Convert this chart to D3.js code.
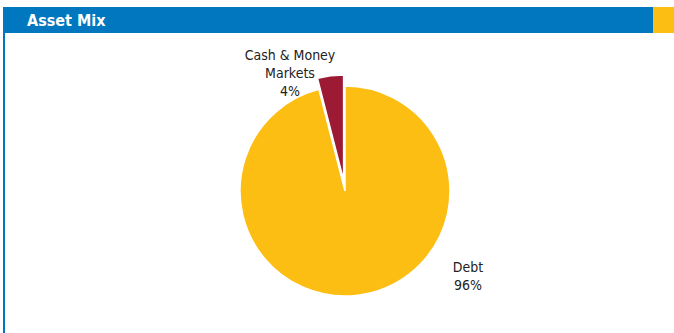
<!DOCTYPE html>
<html lang="en">
<head>
    <meta charset="utf-8">
    <title>Asset Mix</title>
    <script src="https://d3js.org/d3.v7.min.js"></script>
    <style>
        body { margin: 0; background: #fff; }
        .slice-label {
            font-family: "DejaVu Sans Condensed", "DejaVu Sans", sans-serif;
            font-stretch: condensed;
            font-size: 14px;
            fill: #222;
        }
    </style>
</head>
<body>
    <div id="chart"></div>
    <script>
        // Chart data
        const categories = ["Debt", "Cash & Money Markets"];
        const shares = [96, 4];
        const labelLines = [["Debt", "96%"], ["Cash & Money", "Markets", "4%"]];
        const sliceColors = ["#fdbe14", "#9c1a33"];

        const width = 674, height = 333;
        const svg = d3.select("#chart").append("svg")
            .attr("width", width)
            .attr("height", height);

        // Header bar
        svg.append("rect").attr("x", 3).attr("y", 7).attr("width", 650).attr("height", 26).attr("fill", "#0077be");
        svg.append("rect").attr("x", 653).attr("y", 7).attr("width", 21).attr("height", 26).attr("fill", "#fdbe14");
        svg.append("rect").attr("x", 3).attr("y", 33).attr("width", 2).attr("height", height - 33).attr("fill", "#0077be");
        svg.append("text")
            .attr("x", 27).attr("y", 26)
            .attr("fill", "#fff")
            .style("font-family", "'DejaVu Sans Condensed', 'DejaVu Sans', sans-serif")
            .style("font-stretch", "condensed")
            .style("font-weight", "bold")
            .style("font-size", "16px")
            .text("Asset Mix");

        // Pie
        const cx = 345, cy = 191, radius = 105, explode = 11;
        const data = categories.map((c, i) => ({ name: c, value: shares[i], color: sliceColors[i], lines: labelLines[i] }));
        const pie = d3.pie().sort(null).value(d => d.value);
        const arc = d3.arc().innerRadius(0).outerRadius(radius);
        const arcs = pie(data);

        const g = svg.append("g").attr("transform", `translate(${cx},${cy})`);

        g.selectAll("path")
            .data(arcs)
            .join("path")
            .attr("d", arc)
            .attr("fill", d => d.data.color)
            .attr("stroke", "#fff")
            .attr("stroke-width", 1.5)
            .attr("transform", d => {
                if (d.index === 0) return null;
                const mid = (d.startAngle + d.endAngle) / 2;
                return `translate(${Math.sin(mid) * explode},${-Math.cos(mid) * explode})`;
            });

        // Labels
        const labelPos = [[123, 81], [-55, -131]];
        const lineH = 18;
        arcs.forEach((d, i) => {
            const t = g.append("text")
                .attr("class", "slice-label")
                .attr("text-anchor", "middle")
                .attr("x", labelPos[i][0])
                .attr("y", labelPos[i][1]);
            d.data.lines.forEach((ln, j) => {
                t.append("tspan")
                    .attr("x", labelPos[i][0])
                    .attr("dy", j === 0 ? 0 : lineH)
                    .text(ln);
            });
        });
    </script>
</body>
</html>
